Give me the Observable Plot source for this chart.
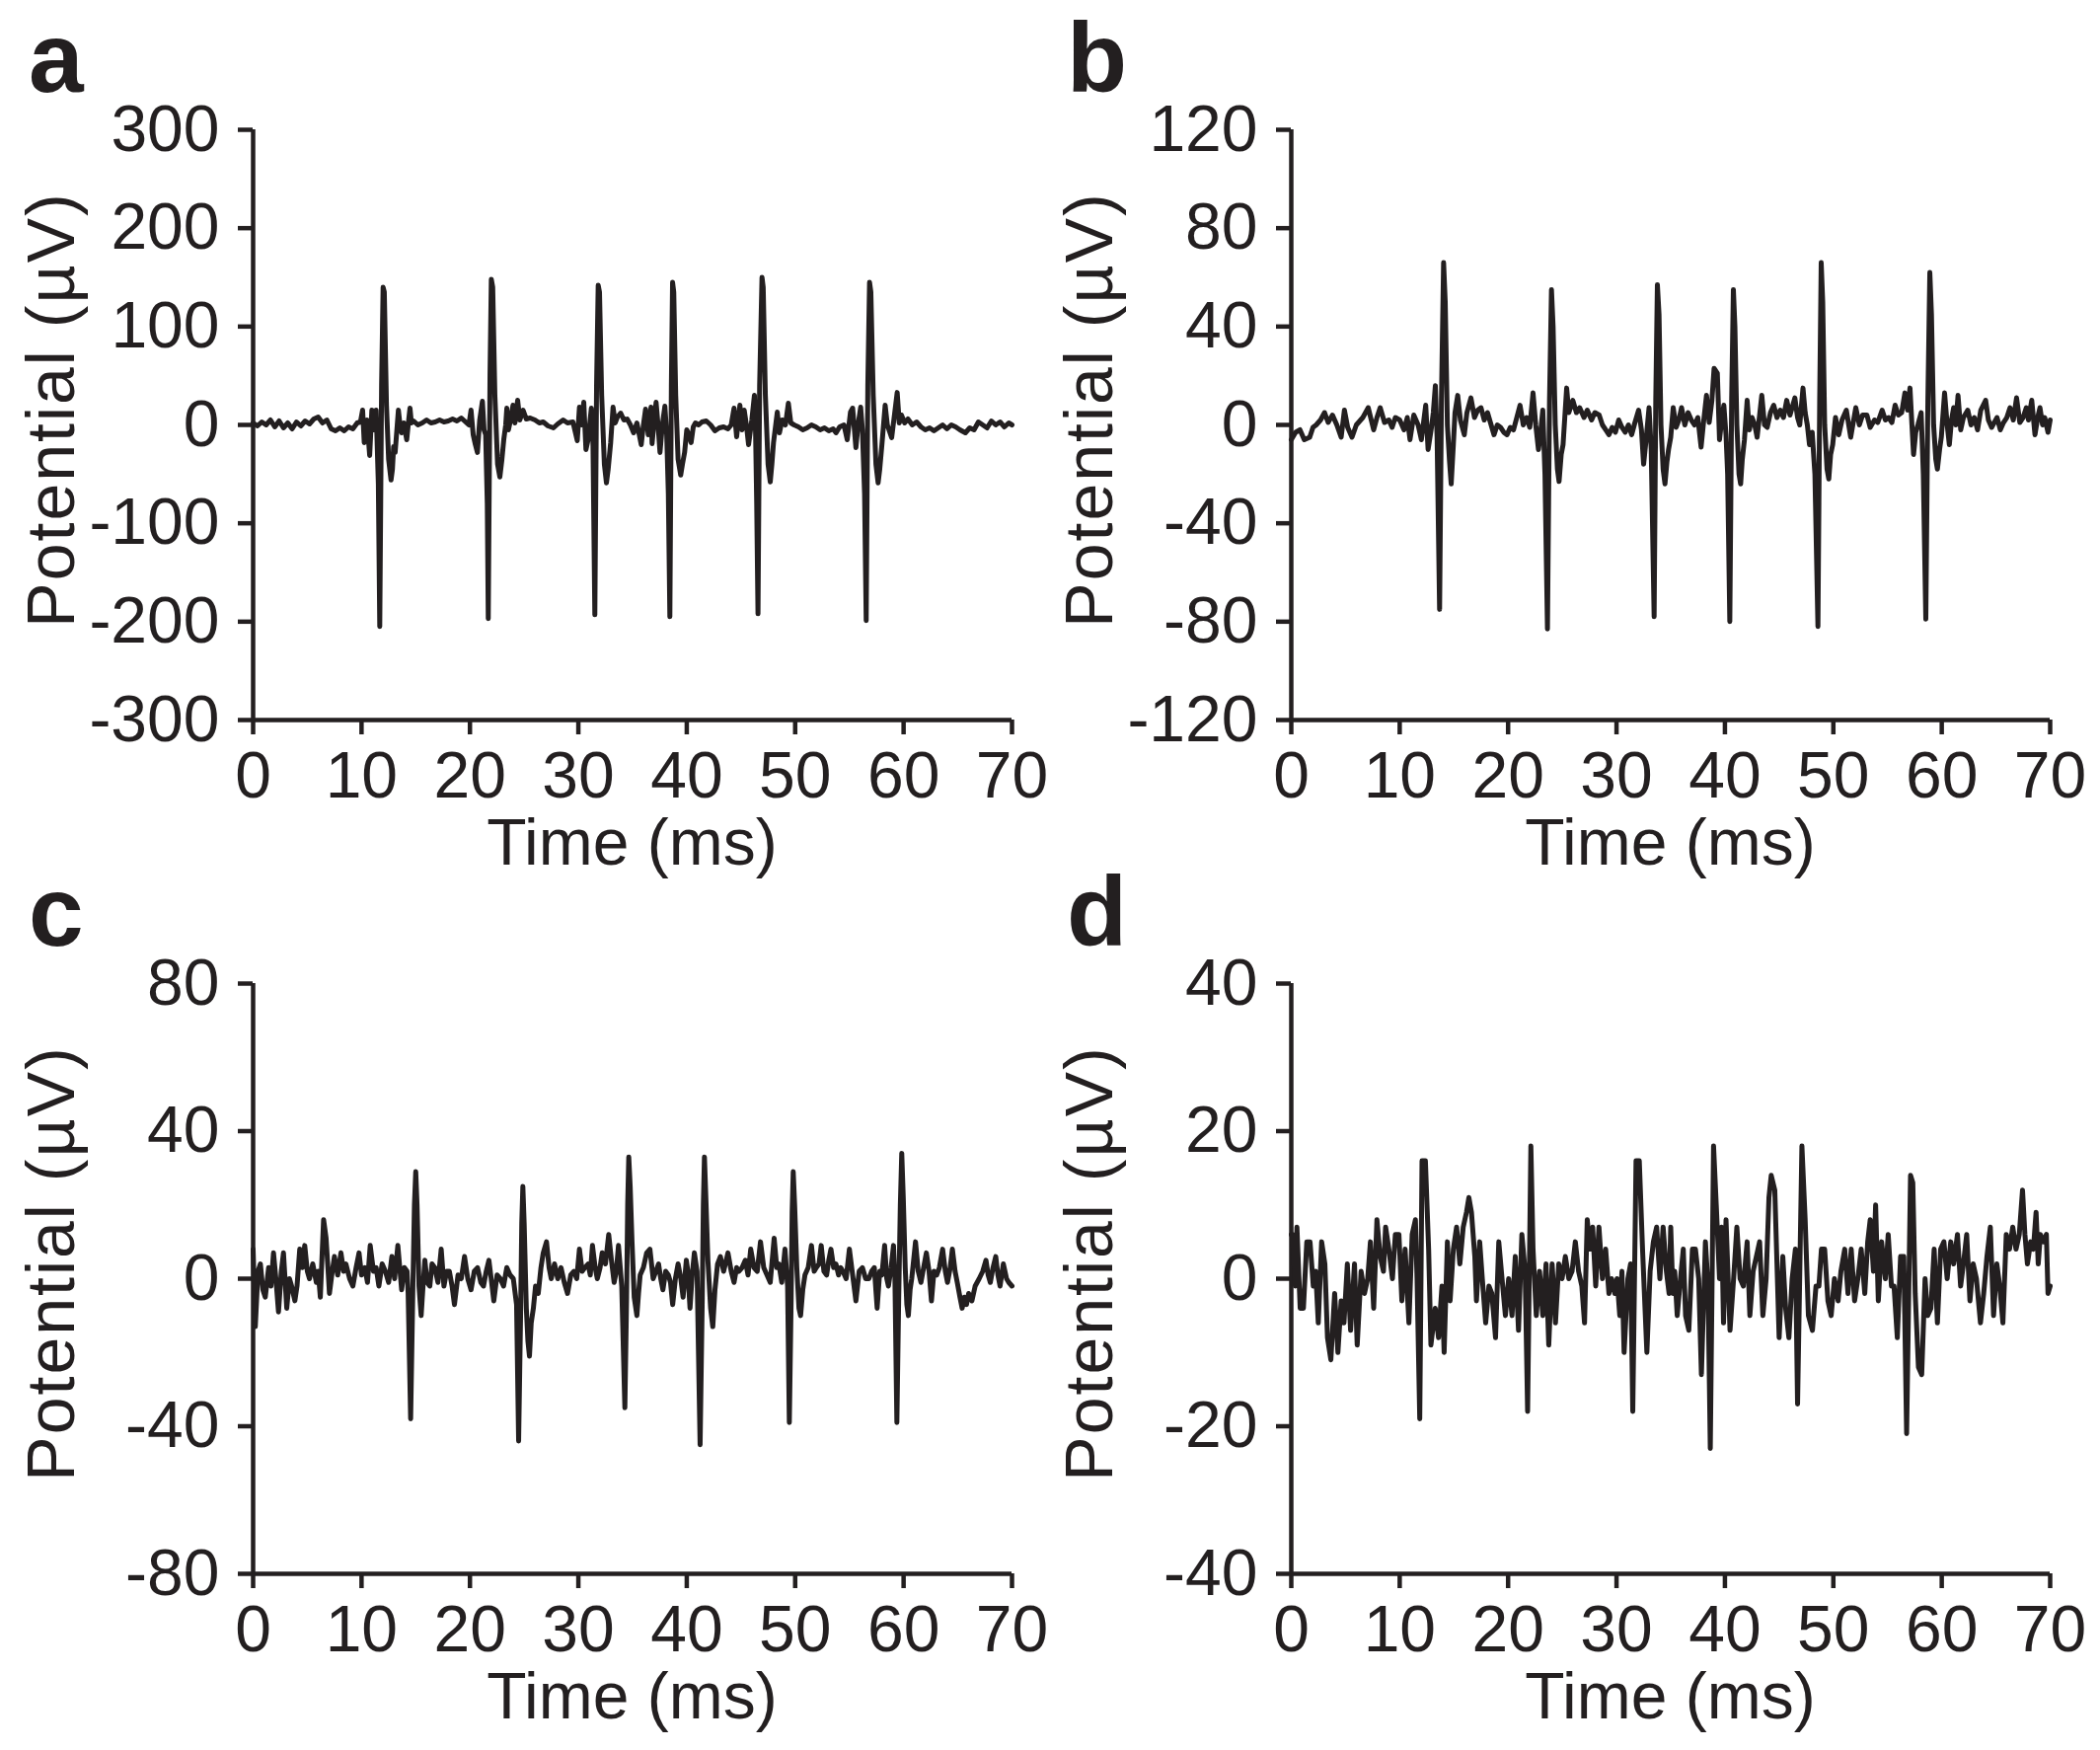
<!DOCTYPE html>
<html lang="en">
<head>
    <meta charset="UTF-8">
    <title>Extracellular potential traces</title>
    <style>
        :root {
            --ink: #231f20;
        }

        body {
            margin: 0;
            padding: 0;
            background-color: white;
        }

        #figure {
            position: relative;
            width: 2128px;
            height: 1773px;
            font-family: "Liberation Sans", Arial, sans-serif;
            color: var(--ink);
        }

        .panel {
            position: absolute;
            width: 1064px;
            height: 886px;
        }

        .panel svg {
            position: absolute;
            left: 0;
            top: 0;
            overflow: visible;
        }

        .letter {
            position: absolute;
            left: 29px;
            top: 8px;
            font-weight: bold;
            font-size: 100px;
            line-height: 100px;
        }

        .xlabel {
            position: absolute;
            left: 256px;
            top: 820px;
            width: 769px;
            text-align: center;
            font-size: 66px;
            line-height: 66px;
        }

        .ylabel {
            position: absolute;
            left: -249px;
            top: 381px;
            width: 600px;
            text-align: center;
            font-size: 68px;
            line-height: 68px;
            letter-spacing: 2px;
            transform: rotate(-90deg);
        }
    </style>
</head>
<body>
    <div id="figure"></div>

<script src="https://cdn.jsdelivr.net/npm/d3@7"></script>
<script src="https://cdn.jsdelivr.net/npm/@observablehq/plot@0.6"></script>
<script>
// time (ms), potential (µV)
const traceA = [
  [0,2],[0.4,-1],[0.8,3],[1.2,0],[1.6,5],[2.0,-2],[2.4,4],[2.8,-3],[3.2,2],[3.6,-4],
  [4.0,3],[4.4,-1],[4.8,4],[5.2,1],[5.6,6],[6.0,8],[6.4,2],[6.8,5],[7.2,-4],[7.6,-6],
  [8.0,-3],[8.4,-6],[8.8,-2],[9.2,-4],[9.6,2],[9.9,3],[10.1,15],[10.25,-18],[10.5,5],[10.75,-31],
  [10.95,15],[11.15,-5],[11.35,15],[11.55,-60],[11.68,-205],[11.85,40],[11.99,140],[12.1,135],[12.3,20],[12.5,-35],
  [12.72,-56],[12.85,-45],[12.96,-22],[13.1,-28],[13.4,15],[13.55,0],[13.7,-8],[13.9,2],[14.17,-15],[14.35,5],
  [14.47,17],[14.6,2],[14.8,4],[15.2,0],[15.6,2],[16.0,5],[16.4,2],[16.8,3],[17.2,5],[17.6,3],
  [18.0,4],[18.4,6],[18.8,4],[19.2,7],[19.6,3],[19.9,0],[20.1,15],[20.3,-10],[20.5,-20],[20.69,-28],
  [20.9,5],[21.15,24],[21.3,-5],[21.45,-10],[21.6,-80],[21.69,-197],[21.85,50],[21.97,148],[22.1,140],[22.3,30],
  [22.55,-40],[22.76,-53],[22.95,-35],[23.12,-15],[23.3,0],[23.4,17],[23.55,-5],[23.75,5],[23.97,20],[24.15,2],
  [24.4,25],[24.6,5],[24.9,15],[25.2,6],[25.55,7],[26.0,5],[26.4,2],[26.76,3],[27.2,-1],[27.7,-3],
  [28.1,1],[28.6,5],[29.0,2],[29.5,3],[29.9,-16],[30.1,18],[30.3,0],[30.5,23],[30.7,-25],[30.9,-15],
  [31.2,17],[31.35,-20],[31.52,-193],[31.68,40],[31.83,142],[31.95,135],[32.15,30],[32.4,-40],[32.59,-59],[32.75,-45],
  [32.98,-18],[33.2,18],[33.4,2],[33.6,8],[33.9,12],[34.2,5],[34.5,6],[34.8,0],[35.1,-8],[35.4,2],
  [35.8,-20],[36.0,0],[36.2,16],[36.45,-10],[36.7,18],[36.8,-19],[37.0,5],[37.17,23],[37.35,0],[37.53,-28],
  [37.75,0],[37.98,19],[38.15,-10],[38.3,-70],[38.44,-195],[38.58,40],[38.69,145],[38.8,135],[38.98,30],[39.2,-35],
  [39.44,-51],[39.6,-40],[39.8,-28],[40.0,-5],[40.2,-10],[40.4,-18],[40.6,-2],[40.8,2],[41.1,0],[41.4,3],
  [41.8,4],[42.2,0],[42.6,-6],[43.0,-3],[43.4,-2],[43.8,-4],[44.1,0],[44.36,17],[44.6,-12],[44.9,20],
  [45.1,-5],[45.3,15],[45.5,0],[45.7,-20],[46.0,5],[46.24,30],[46.35,-10],[46.45,-80],[46.57,-192],[46.72,40],
  [46.94,150],[47.05,140],[47.25,30],[47.5,-40],[47.7,-58],[47.85,-40],[48.0,-18],[48.35,13],[48.55,-8],[48.8,5],
  [49.1,0],[49.37,22],[49.6,2],[49.9,0],[50.3,-2],[50.7,-5],[51.1,-3],[51.5,0],[51.9,-2],[52.3,-5],
  [52.7,-3],[53.1,-6],[53.5,-4],[53.77,-8],[54.1,-2],[54.5,0],[54.8,-15],[55.1,13],[55.3,17],[55.6,-23],
  [55.8,0],[56.04,18],[56.2,-5],[56.4,-70],[56.55,-199],[56.7,40],[56.86,145],[56.98,135],[57.2,30],[57.45,-40],
  [57.65,-59],[57.8,-45],[58.0,-20],[58.3,20],[58.5,0],[58.9,-13],[59.1,5],[59.41,33],[59.6,2],[59.8,10],
  [60.1,2],[60.4,6],[60.8,0],[61.2,3],[61.6,-2],[62.0,-5],[62.4,-3],[62.8,-6],[63.2,-3],[63.6,0],
  [64.0,-4],[64.4,0],[64.8,-2],[65.2,-5],[65.7,-8],[66.1,-3],[66.5,-5],[66.9,3],[67.3,0],[67.7,-3],
  [68.1,4],[68.5,0],[68.9,3],[69.3,-2],[69.7,2],[70,0]
];

const traceB = [
  [0,-6],[0.4,-3],[0.8,-2],[1.2,-6],[1.7,-5],[2.0,-1],[2.3,0],[2.7,2],[3.07,5],[3.4,1],
  [3.8,4],[4.2,0],[4.6,-5],[4.9,6],[5.2,-1],[5.6,-5],[6.0,0],[6.6,3],[7.1,7],[7.6,-2],
  [7.9,3],[8.2,7],[8.6,1],[9.0,2],[9.3,-1],[9.6,3],[10.0,2],[10.4,-2],[10.7,3],[10.95,-6],
  [11.3,4],[11.7,0],[12.0,-6],[12.4,8],[12.62,-10],[12.9,-2],[13.1,5],[13.29,16],[13.45,-5],[13.68,-75],
  [13.85,10],[14.05,66],[14.2,50],[14.4,0],[14.6,-15],[14.75,-24],[14.95,-8],[15.1,5],[15.35,12],[15.6,2],
  [15.96,-4],[16.2,5],[16.57,11],[16.9,3],[17.2,6],[17.5,7],[17.8,2],[18.1,5],[18.7,-4],[19.0,0],
  [19.3,-1],[19.6,-3],[19.9,-4],[20.2,-1],[20.5,-2],[20.8,3],[21.1,8],[21.4,0],[21.7,3],[22.0,-1],
  [22.3,13],[22.55,0],[22.8,-10],[23.0,-3],[23.2,6],[23.4,-20],[23.63,-83],[23.82,10],[24.0,55],[24.15,40],
  [24.35,0],[24.55,-18],[24.7,-23],[24.9,-12],[25.07,-8],[25.4,15],[25.6,5],[25.97,10],[26.3,5],[26.6,7],
  [27.0,3],[27.3,6],[27.7,2],[28.0,5],[28.4,4],[28.7,0],[29.0,-2],[29.3,-4],[29.6,-1],[29.9,-3],
  [30.2,2],[30.5,-1],[30.8,-3],[31.1,0],[31.4,-4],[31.7,1],[32.04,6],[32.3,-2],[32.5,-16],[32.75,-5],
  [33.0,7],[33.2,-10],[33.47,-78],[33.62,10],[33.77,57],[33.92,45],[34.1,0],[34.3,-18],[34.47,-24],[34.65,-15],
  [34.8,-10],[35.0,-5],[35.23,7],[35.5,-1],[35.75,2],[36.0,7],[36.3,0],[36.6,5],[36.9,2],[37.2,0],
  [37.5,3],[37.8,-9],[38.05,2],[38.3,12],[38.55,1],[38.8,10],[39.0,23],[39.3,21],[39.5,-6],[39.7,2],
  [39.9,8],[40.1,-4],[40.25,-20],[40.45,-80],[40.62,10],[40.78,55],[40.92,40],[41.1,0],[41.3,-20],[41.45,-24],
  [41.6,-14],[41.8,-6],[42.05,10],[42.25,-2],[42.5,3],[42.75,0],[42.97,-5],[43.2,4],[43.4,12],[43.65,0],
  [43.9,-1],[44.2,5],[44.5,8],[44.8,3],[45.1,6],[45.4,3],[45.7,10],[46.0,4],[46.2,7],[46.45,11],
  [46.7,3],[46.9,0],[47.2,15],[47.4,5],[47.6,0],[47.8,-8],[48.05,-3],[48.3,-20],[48.58,-82],[48.74,10],
  [48.88,66],[49.02,50],[49.2,0],[49.42,-18],[49.58,-22],[49.75,-12],[49.94,-8],[50.2,3],[50.5,-4],[50.8,2],
  [51.2,6],[51.6,-5],[52.07,7],[52.4,0],[52.7,4],[53.1,4],[53.4,-1],[53.8,2],[54.1,1],[54.5,6],
  [54.8,2],[55.1,3],[55.4,1],[55.7,8],[56.0,4],[56.3,5],[56.6,13],[56.85,6],[57.07,15],[57.25,0],
  [57.4,-12],[57.6,-3],[57.8,0],[58.1,5],[58.3,-20],[58.53,-79],[58.72,10],[58.9,62],[59.05,45],[59.25,0],
  [59.45,-14],[59.6,-18],[59.8,-10],[59.96,-5],[60.26,13],[60.5,0],[60.7,-8],[60.9,2],[61.1,7],[61.3,0],
  [61.5,12],[61.75,-2],[62.0,3],[62.4,6],[62.7,0],[63.0,3],[63.3,-2],[63.6,6],[64.05,10],[64.3,2],
  [64.6,-1],[65.1,3],[65.4,-2],[65.7,1],[66.0,3],[66.3,7],[66.6,2],[66.9,11],[67.2,1],[67.5,3],
  [67.8,7],[68.0,2],[68.3,10],[68.6,-4],[68.85,3],[69.06,7],[69.3,0],[69.5,3],[69.8,-3],[70,2]
];

const traceC = [
  [0,8],[0.2,-13],[0.45,2],[0.67,4],[0.9,-3],[1.12,-5],[1.43,3],[1.65,-2],[1.88,7],[2.1,0],
  [2.34,-9],[2.6,2],[2.8,7],[3.1,-8],[3.35,0],[3.55,-2],[3.85,-6],[4.05,-2],[4.3,8],[4.55,3],
  [4.76,9],[5.0,2],[5.2,0],[5.5,4],[5.83,-1],[6.0,2],[6.2,-5],[6.5,16],[6.73,11],[6.9,3],
  [7.04,-4],[7.3,2],[7.5,6],[7.8,1],[8.1,7],[8.35,2],[8.56,4],[8.9,0],[9.2,-2],[9.5,3],
  [9.77,7],[10.0,1],[10.3,3],[10.55,-1],[10.8,9],[11.1,2],[11.35,3],[11.6,-2],[11.9,4],[12.2,2],
  [12.5,-1],[12.8,6],[13.05,0],[13.35,9],[13.7,-3],[13.95,3],[14.2,2],[14.3,-4],[14.53,-38],[14.72,-5],
  [14.88,20],[15.0,29],[15.12,20],[15.3,-2],[15.5,-10],[15.65,-3],[15.84,5],[16.05,-1],[16.3,-2],[16.5,4],
  [16.75,3],[17.05,-1],[17.35,8],[17.6,-2],[17.85,2],[18.1,2],[18.35,-2],[18.57,-7],[18.9,1],[19.2,0],
  [19.5,6],[19.8,0],[20.1,-3],[20.4,2],[20.7,3],[21.0,-1],[21.25,-2],[21.5,2],[21.75,5],[22.0,-1],
  [22.2,-6],[22.5,1],[22.8,0],[23.1,-2],[23.4,3],[23.7,1],[24.0,0],[24.3,-7],[24.49,-44],[24.68,-8],
  [24.78,15],[24.88,25],[25.0,15],[25.2,-8],[25.35,-17],[25.49,-21],[25.65,-12],[25.85,-8],[26.05,-2],[26.3,-4],
  [26.55,3],[26.76,7],[27.06,10],[27.3,3],[27.5,0],[27.8,4],[28.1,0],[28.4,3],[28.7,-1],[29.0,-4],
  [29.3,1],[29.6,2],[29.85,0],[30.1,8],[30.35,2],[30.6,3],[30.9,4],[31.1,1],[31.3,9],[31.55,3],
  [31.75,0],[32.0,3],[32.2,7],[32.5,4],[32.8,12],[33.05,5],[33.3,-1],[33.5,2],[33.7,9],[34.0,-2],
  [34.29,-35],[34.45,-5],[34.55,20],[34.65,33],[34.78,25],[34.95,10],[35.15,-5],[35.4,-10],[35.55,-4],[35.7,1],
  [36.0,3],[36.3,7],[36.6,8],[36.9,0],[37.15,2],[37.4,4],[37.6,0],[37.8,-3],[38.05,2],[38.3,1],
  [38.5,-1],[38.7,-7],[38.95,0],[39.2,4],[39.45,0],[39.66,-5],[39.96,5],[40.1,2],[40.3,-8],[40.5,1],
  [40.7,7],[40.95,2],[41.23,-45],[41.43,-5],[41.53,20],[41.63,33],[41.76,22],[41.95,5],[42.2,-8],[42.4,-13],
  [42.6,-3],[42.84,4],[43.1,6],[43.4,2],[43.8,7],[44.1,2],[44.36,-1],[44.6,3],[44.8,2],[45.1,3],
  [45.4,5],[45.65,1],[45.9,8],[46.2,3],[46.5,2],[46.8,10],[47.1,3],[47.4,1],[47.7,-1],[48.06,11],
  [48.3,3],[48.5,4],[48.76,-1],[49.06,8],[49.3,-2],[49.46,-39],[49.63,-5],[49.72,18],[49.82,29],[49.95,20],
  [50.15,3],[50.35,-8],[50.5,-10],[50.7,-3],[50.9,1],[51.2,3],[51.5,9],[51.75,2],[51.95,3],[52.2,4],
  [52.4,9],[52.65,2],[52.9,1],[53.1,5],[53.3,8],[53.55,3],[53.76,4],[54.0,1],[54.2,3],[54.4,2],
  [54.7,0],[55.0,8],[55.3,1],[55.6,-6],[55.9,2],[56.2,3],[56.5,0],[56.8,0],[57.05,2],[57.3,3],
  [57.56,-8],[57.8,2],[58.0,1],[58.25,9],[58.45,0],[58.6,-2],[58.85,3],[59.07,9],[59.2,0],[59.38,-39],
  [59.55,-5],[59.7,20],[59.83,34],[59.97,22],[60.15,3],[60.3,-7],[60.44,-10],[60.6,-3],[60.75,0],[61.1,10],
  [61.35,2],[61.6,-1],[61.85,3],[62.1,7],[62.35,2],[62.57,-6],[62.8,2],[63.05,1],[63.3,3],[63.6,8],
  [63.85,2],[64.05,-1],[64.3,3],[64.5,8],[64.75,2],[64.95,-1],[65.2,-5],[65.4,-8],[65.6,-5],[65.8,-7],
  [66.0,-4],[66.3,-6],[66.6,-2],[66.97,0],[67.3,2],[67.6,5],[67.8,1],[68.0,-1],[68.25,3],[68.5,6],
  [68.7,1],[68.9,-2],[69.2,4],[69.5,0],[69.7,-1],[70,-2]
];

const traceD = [
  [0,6],[0.12,6],[0.37,-1],[0.52,7],[0.82,-4],[1.12,-4],[1.43,5],[1.73,5],[2.03,-1],[2.25,1],
  [2.49,-6],[2.8,5],[3.1,2],[3.34,-8],[3.65,-11],[4.0,-2],[4.3,-10],[4.6,-3],[4.86,-6],[5.17,2],
  [5.47,-7],[5.83,2],[6.08,-9],[6.44,1],[6.75,-2],[7.05,0],[7.3,5],[7.6,-4],[7.9,8],[8.2,3],
  [8.5,1],[8.7,7],[9.0,4],[9.33,0],[9.6,6],[9.93,6],[10.2,-3],[10.5,4],[10.85,-6],[11.15,6],
  [11.45,8],[11.6,0],[11.85,-19],[12.06,16],[12.37,16],[12.67,4],[12.88,-9],[13.28,-4],[13.58,-8],[13.9,-1],
  [14.1,-10],[14.4,5],[14.65,-3],[14.95,4],[15.25,7],[15.55,2],[15.86,7],[16.16,9],[16.38,11],[16.62,9],
  [16.93,3],[17.08,-3],[17.38,5],[17.62,0],[17.93,-6],[18.23,-1],[18.5,-2],[18.84,-8],[19.14,5],[19.44,0],
  [19.75,-5],[20.05,0],[20.36,-5],[20.66,3],[20.96,-7],[21.27,6],[21.57,1],[21.8,-18],[22.1,18],[22.3,4],
  [22.6,-5],[22.9,1],[23.2,-5],[23.5,2],[23.75,-9],[24.06,2],[24.37,-6],[24.67,2],[24.98,0],[25.28,3],
  [25.6,0],[25.9,1],[26.2,5],[26.5,1],[26.8,-1],[27.05,-6],[27.3,8],[27.56,4],[27.8,7],[28.08,-1],
  [28.38,7],[28.7,0],[29.0,4],[29.3,-2],[29.55,0],[29.84,-2],[30.05,0],[30.3,-5],[30.5,1],[30.7,-10],
  [31.05,0],[31.3,2],[31.5,-18],[31.8,16],[32.1,16],[32.4,4],[32.8,-10],[33.1,1],[33.4,5],[33.7,7],
  [34.0,0],[34.3,7],[34.6,1],[34.85,-2],[35.0,7],[35.2,-2],[35.37,1],[35.6,-5],[35.9,0],[36.16,4],
  [36.37,-5],[36.67,-7],[37.0,4],[37.28,4],[37.58,0],[37.83,-13],[38.2,5],[38.44,-1],[38.65,-23],[38.95,18],
  [39.2,10],[39.5,0],[39.7,7],[39.87,-6],[40.1,8],[40.47,-7],[40.8,0],[41.1,7],[41.4,0],[41.7,-1],
  [42.05,5],[42.3,-5],[42.6,1],[42.9,3],[43.2,5],[43.5,-5],[43.8,0],[44.06,11],[44.27,14],[44.6,12],
  [44.7,7],[45.0,-8],[45.34,3],[45.6,-4],[45.9,-8],[46.2,0],[46.5,4],[46.7,-17],[47.1,18],[47.4,8],
  [47.7,-5],[48.07,-7],[48.4,-1],[48.67,-1],[48.9,4],[49.2,4],[49.5,-3],[49.8,-5],[50.1,0],[50.44,-3],
  [50.7,1],[51.05,4],[51.35,-2],[51.65,4],[51.96,-3],[52.26,0],[52.57,4],[52.9,-2],[53.17,5],[53.4,8],
  [53.7,1],[53.9,10],[54.15,-3],[54.45,5],[54.8,0],[55.06,6],[55.36,-1],[55.6,-1],[55.9,-8],[56.2,3],
  [56.5,3],[56.76,-21],[57.12,14],[57.33,13],[57.55,-2],[57.85,-12],[58.15,-13],[58.46,0],[58.7,-5],[59.0,-4],
  [59.3,4],[59.6,-6],[59.9,4],[60.2,5],[60.5,0],[60.83,5],[61.1,2],[61.45,6],[61.74,-1],[62.0,2],
  [62.3,6],[62.6,-3],[62.9,2],[63.2,0],[63.57,-6],[63.87,-2],[64.17,3],[64.48,7],[64.78,-5],[65.08,2],
  [65.35,-1],[65.64,-6],[65.95,6],[66.25,4],[66.55,7],[66.85,4],[67.15,6],[67.45,12],[67.67,6],[67.9,2],
  [68.2,5],[68.45,4],[68.7,9],[68.9,2],[69.1,6],[69.4,5],[69.65,6],[69.8,-2],[70,-1]
];

const timeTicks = [0, 10, 20, 30, 40, 50, 60, 70];
const ticksA = [-300, -200, -100, 0, 100, 200, 300];
const ticksB = [-120, -80, -40, 0, 40, 80, 120];
const ticksC = [-80, -40, 0, 40, 80];
const ticksD = [-40, -20, 0, 20, 40];

const letters = ["a", "b", "c", "d"];
const xTitle = "Time (ms)";
const yTitle = "Potential (µV)";

const ink = "#231f20";

const panels = [
  {letter: letters[0], trace: traceA, ticks: ticksA, left: 0, top: 0},
  {letter: letters[1], trace: traceB, ticks: ticksB, left: 1052, top: 0},
  {letter: letters[2], trace: traceC, ticks: ticksC, left: 0, top: 865},
  {letter: letters[3], trace: traceD, ticks: ticksD, left: 1052, top: 865}
];

const figure = document.querySelector("#figure");

for (const p of panels) {
  const yMin = p.ticks[0];
  const yMax = p.ticks[p.ticks.length - 1];

  const plot = Plot.plot({
    width: 1064,
    height: 886,
    marginLeft: 256,
    marginRight: 39,
    marginTop: 131,
    marginBottom: 157,
    x: { domain: [0, 70], label: null },
    y: { domain: [yMin, yMax], label: null },
    style: {
      fontFamily: '"Liberation Sans", Arial, sans-serif',
      fontSize: "66px",
      color: ink,
      background: "transparent"
    },
    marks: [
      Plot.axisX({
        ticks: timeTicks,
        tickSize: 15,
        tickPadding: 17,
        strokeWidth: 4.5,
        fontSize: 66,
        tickFormat: d => String(d),
        label: null
      }),
      Plot.axisY({
        ticks: p.ticks,
        tickSize: 15,
        tickPadding: 19,
        strokeWidth: 4.5,
        fontSize: 66,
        tickFormat: d => String(d),
        label: null
      }),
      Plot.ruleX([0], { stroke: ink, strokeWidth: 4.5 }),
      Plot.ruleY([yMin], { stroke: ink, strokeWidth: 4.5 }),
      Plot.line(p.trace, {
        x: d => d[0],
        y: d => d[1],
        stroke: ink,
        strokeWidth: 5,
        strokeLinejoin: "round"
      })
    ]
  });

  const div = document.createElement("div");
  div.className = "panel";
  div.style.left = p.left + "px";
  div.style.top = p.top + "px";
  div.append(plot);

  const letter = document.createElement("div");
  letter.className = "letter";
  letter.textContent = p.letter;
  div.append(letter);

  const xl = document.createElement("div");
  xl.className = "xlabel";
  xl.textContent = xTitle;
  div.append(xl);

  const yl = document.createElement("div");
  yl.className = "ylabel";
  yl.textContent = yTitle;
  div.append(yl);

  figure.append(div);
}
</script>
</body>
</html>
